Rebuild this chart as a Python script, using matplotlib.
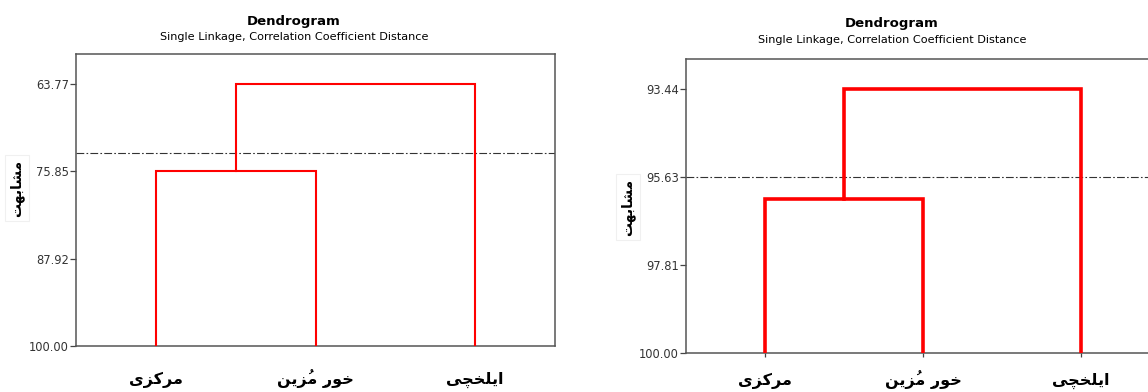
import unicodedata
import matplotlib
matplotlib.use('Agg')
import matplotlib.pyplot as plt
from matplotlib.transforms import blended_transform_factory

# leaves and merge steps (left, right, similarity) for both runs
leaf_labels = ['مرکزی', 'خورِ مُزین', 'ایلخچی']
y_title = 'مشابهت'

left_merges = [(0, 1, 75.85), (3, 2, 63.77)]
left_ticks = [63.77, 75.85, 87.92, 100.00]
left_cut = 73.31

right_merges = [(0, 1, 96.17), (3, 2, 93.44)]
right_ticks = [93.44, 95.63, 97.81, 100.00]
right_cut = 95.63

# matplotlib does no arabic shaping, so pick presentation forms by hand
FORMS = {
    'ا': ('\uFE8D', '\uFE8E'),
    'ب': ('\uFE8F', '\uFE90', '\uFE91', '\uFE92'),
    'ت': ('\uFE95', '\uFE96', '\uFE97', '\uFE98'),
    'خ': ('\uFEA5', '\uFEA6', '\uFEA7', '\uFEA8'),
    'ر': ('\uFEAD', '\uFEAE'),
    'ز': ('\uFEAF', '\uFEB0'),
    'ش': ('\uFEB5', '\uFEB6', '\uFEB7', '\uFEB8'),
    'ل': ('\uFEDD', '\uFEDE', '\uFEDF', '\uFEE0'),
    'م': ('\uFEE1', '\uFEE2', '\uFEE3', '\uFEE4'),
    'ن': ('\uFEE5', '\uFEE6', '\uFEE7', '\uFEE8'),
    'ه': ('\uFEE9', '\uFEEA', '\uFEEB', '\uFEEC'),
    'و': ('\uFEED', '\uFEEE'),
    'ک': ('\uFB8E', '\uFB8F', '\uFB90', '\uFB91'),
    'چ': ('\uFB7A', '\uFB7B', '\uFB7C', '\uFB7D'),
    'ی': ('\uFBFC', '\uFBFD', '\uFBFE', '\uFBFF'),
}


def shape(text):
    clusters = []
    for ch in text:
        if unicodedata.combining(ch) and clusters:
            clusters[-1][1] += ch
        else:
            clusters.append([ch, ''])
    out = []
    for i, (ch, marks) in enumerate(clusters):
        f = FORMS.get(ch)
        if f is None:
            out.append(marks + ch)
            continue
        prev = clusters[i - 1][0] if i > 0 else None
        nxt = clusters[i + 1][0] if i + 1 < len(clusters) else None
        jp = prev in FORMS and len(FORMS[prev]) == 4
        jn = len(f) == 4 and nxt in FORMS
        if jp and jn:
            k = 3
        elif jn:
            k = 2
        elif jp:
            k = 1
        else:
            k = 0
        # mark goes in front so it lands on its letter in LTR layout
        out.append(marks + f[k])
    return ''.join(reversed(out))


plt.rcParams['font.family'] = ['DejaVu Sans']

W, H = 1148, 392
fig = plt.figure(figsize=(W / 100, H / 100), dpi=100)


def px(x0, y0, x1, y1):
    return [x0 / W, 1 - y1 / H, (x1 - x0) / W, (y1 - y0) / H]


def dendro(ax, merges, ticks, cut, ymin, lw, xtick_len, base_off):
    n = len(leaf_labels)
    xs = {i: i + 1 for i in range(n)}
    ys = {i: 100.0 for i in range(n)}
    for k, (a, b, h) in enumerate(merges):
        ax.plot([xs[a], xs[a], xs[b], xs[b]], [ys[a], h, h, ys[b]],
                color='#ff0000', lw=lw, solid_joinstyle='miter', zorder=3)
        xs[n + k] = (xs[a] + xs[b]) / 2
        ys[n + k] = h
    ax.axhline(cut, color='#333333', lw=0.8, ls=(0, (7, 2, 1.5, 2)), zorder=2)
    ax.set_xlim(0.5, 3.5)
    ax.set_ylim(100, ymin)
    ax.set_yticks(ticks)
    ax.set_yticklabels(['%.2f' % t for t in ticks])
    ax.set_xticks(range(1, n + 1))
    ax.set_xticklabels([])
    ax.tick_params(axis='y', length=4, width=0.9, color='#444444',
                   labelsize=8.3, labelcolor='#333333', pad=1)
    ax.tick_params(axis='x', length=xtick_len, width=0.9, color='#444444')
    for s in ax.spines.values():
        s.set_color('#555555')
        s.set_linewidth(1.1)
    # leaf names share one baseline below the axis
    tr = blended_transform_factory(ax.transData, ax.transAxes)
    for i, name in enumerate(leaf_labels):
        ax.annotate(shape(name), xy=(xs[i], 0), xycoords=tr,
                    xytext=(0, -base_off), textcoords='offset pixels',
                    ha='center', va='baseline', fontsize=11.5,
                    fontweight='bold', annotation_clip=False)


ax1 = fig.add_axes(px(76, 54, 555, 346))
dendro(ax1, left_merges, left_ticks, left_cut, 59.62, 1.5, 0, 38)

ax2 = fig.add_axes(px(686, 59, 1160, 353))
dendro(ax2, right_merges, right_ticks, right_cut, 92.69, 2.6, 3, 32)

for cx, ty in [(294, 21), (892, 24)]:
    fig.text(cx / W, 1 - ty / H, 'Dendrogram', ha='center', va='center',
             fontsize=9.5, fontweight='bold')
    fig.text(cx / W, 1 - (ty + 16) / H,
             'Single Linkage, Correlation Coefficient Distance',
             ha='center', va='center', fontsize=8.1)

for lx, ly in [(17, 188), (628, 207)]:
    fig.text(lx / W, 1 - ly / H, shape(y_title), rotation=90, ha='center',
             va='center', fontsize=10, fontweight='bold',
             bbox=dict(fc='white', ec='#f0f0f0', lw=0.8, pad=3))

fig.savefig('out.png', dpi=100)
